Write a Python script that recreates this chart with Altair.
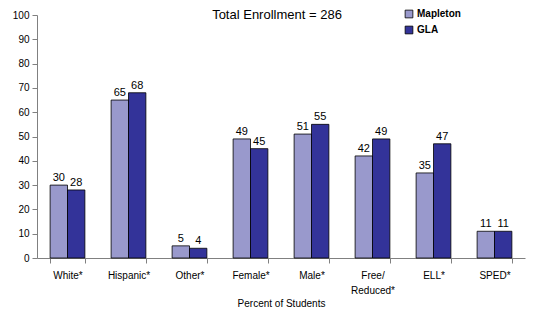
import altair as alt
import pandas as pd

title_text = "Total Enrollment = 286"
categories = ["White*", "Hispanic*", "Other*", "Female*", "Male*", "Free/|Reduced*", "ELL*", "SPED*"]
mapleton = [30, 65, 5, 49, 51, 42, 35, 11]
gla = [28, 68, 4, 45, 55, 49, 47, 11]
series = ["Mapleton", "GLA"]
colors = ["#9999CC", "#333399"]
y_ticks = [0, 10, 20, 30, 40, 50, 60, 70, 80, 90, 100]

rows = []
for c, m, g in zip(categories, mapleton, gla):
    rows.append({"cat": c, "school": "Mapleton", "val": m})
    rows.append({"cat": c, "school": "GLA", "val": g})
df = pd.DataFrame(rows)

font = "Liberation Sans"

x = alt.X("cat:N", sort=categories, title="Percent of Students",
          scale=alt.Scale(paddingInner=0.43, paddingOuter=0.215),
          axis=alt.Axis(labelAngle=0, labelExpr="split(datum.label, '|')",
                        tickBand="extent", labelPadding=7, titlePadding=3,
                        labelFontSize=10, titleFontSize=10, titleFontWeight="normal",
                        labelColor="black", titleColor="black",
                        domainColor="#808080", tickColor="#808080", tickSize=5,
                        labelFont=font, titleFont=font, labelLineHeight=15))
xo = alt.XOffset("school:N", sort=series)
y = alt.Y("val:Q", scale=alt.Scale(domain=[0, 100], nice=False), title=None,
          axis=alt.Axis(values=y_ticks, grid=False, labelOverlap=False,
                        labelFontSize=10, labelColor="black", labelFont=font,
                        domainColor="#808080", tickColor="#808080", tickSize=5,
                        labelPadding=3))

base = alt.Chart(df)
bars = base.mark_bar(stroke="black", strokeWidth=0.8).encode(
    x=x, xOffset=xo, y=y,
    color=alt.Color("school:N", sort=series, title=None,
                    scale=alt.Scale(domain=series, range=colors),
                    legend=alt.Legend(orient="none", legendX=367, legendY=-6,
                                      symbolType="square", symbolSize=60,
                                      symbolStrokeColor="black", symbolStrokeWidth=0.8,
                                      labelFontSize=10, labelFontWeight="bold",
                                      labelFont=font, labelColor="black",
                                      rowPadding=4, labelOffset=3)),
)
labels = base.mark_text(baseline="bottom", dy=-2, fontSize=11, font=font, color="black").encode(
    x=x, xOffset=xo, y=y, text="val:Q"
)
title = alt.Chart(pd.DataFrame({"t": [title_text]})).mark_text(
    fontSize=13, font=font, color="black", baseline="alphabetic", align="center"
).encode(x=alt.value(240), y=alt.value(4), text="t:N")

chart = alt.layer(bars, labels, title).properties(
    width=488, height=243,
    autosize=alt.AutoSizeParams(type="none"),
    padding={"left": 29, "top": 7, "right": 3, "bottom": 50},
).configure_view(stroke=None)

chart.save("out.html", embed_options={"renderer": "svg", "actions": False})
